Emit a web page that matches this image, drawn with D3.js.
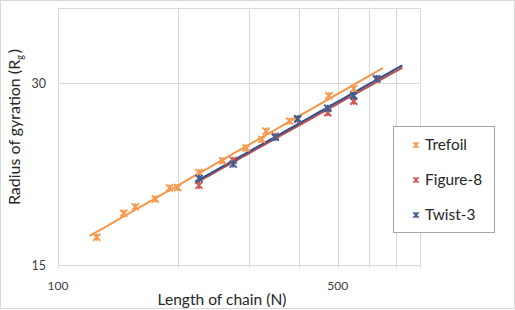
<!DOCTYPE html>
<html>
<head>
<meta charset="utf-8">
<script src="https://cdn.jsdelivr.net/npm/d3@7"></script>
<style>
  html, body { margin: 0; padding: 0; background: #fff; }
  svg { display: block; font-family: Lato, "Open Sans", sans-serif; }
</style>
</head>
<body>
<svg id="chart" width="515" height="310"></svg>
<script>
// ---- data ----
const trefoilN  = [125, 146, 156, 175, 190, 199, 225, 258, 295, 323, 331, 379, 475, 548];
const trefoilRg = [16.67, 18.27, 18.72, 19.29, 20.12, 20.15, 21.33, 22.31, 23.42, 24.2, 24.98, 25.95, 28.58, 29.37];
const fig8N     = [225, 274, 349, 397, 472, 548, 625];
const fig8Rg    = [20.31, 22.35, 24.5, 26.13, 26.79, 27.99, 30.44];
const twist3N   = [225, 274, 349, 397, 472, 548, 625];
const twist3Rg  = [20.86, 22.03, 24.39, 26.19, 27.25, 28.58, 30.51];
const seriesNames = ["Trefoil", "Figure-8", "Twist-3"];
const xGridValues = [100, 200, 300, 400, 500, 600, 700, 800];
const xTickLabels = [100, 500];
const yGridValues = [30, 40];
const yTickLabels = [15, 30];
const xDomain = [100, 800];
const yDomain = [15, 40];
const trendBackward = 5, trendForward = 100;

const colors = {
  "Trefoil":  { marker: "#F79A4E", line: "#F79646" },
  "Figure-8": { marker: "#CD5A57", line: "#C0504D" },
  "Twist-3":  { marker: "#3F5E96", line: "#2E4E8C" }
};

const series = [
  { name: "Trefoil",  N: trefoilN, Rg: trefoilRg },
  { name: "Figure-8", N: fig8N,    Rg: fig8Rg },
  { name: "Twist-3",  N: twist3N,  Rg: twist3Rg }
];

// ---- layout ----
const svg = d3.select("#chart");
const plot = { left: 58, right: 419.5, top: 7.5, bottom: 265 };
const x = d3.scaleLog().domain(xDomain).range([plot.left, plot.right]);
const y = d3.scaleLog().domain(yDomain).range([plot.bottom, plot.top]);
const gridColor = "#d9d9d9";

function fitWidth(sel, target) {
  const base = +sel.attr("font-size");
  const w = sel.node().getComputedTextLength();
  if (w > 0) sel.attr("font-size", (base * target / w).toFixed(2));
  return +sel.attr("font-size");
}

// outer border
svg.append("rect").attr("x", 0.5).attr("y", 0.5).attr("width", 514).attr("height", 308)
  .attr("fill", "#fff").attr("stroke", "#d9d9d9");

// vertical gridlines (extend slightly below axis as tick marks)
svg.append("g").selectAll("line").data(xGridValues).join("line")
  .attr("x1", d => Math.round(x(d)) + 0.5).attr("x2", d => Math.round(x(d)) + 0.5)
  .attr("y1", plot.top).attr("y2", plot.bottom + 3)
  .attr("stroke", gridColor).attr("stroke-width", 1);

// horizontal gridlines
svg.append("g").selectAll("line").data(yGridValues).join("line")
  .attr("x1", plot.left).attr("x2", plot.right)
  .attr("y1", d => Math.round(y(d)) + 0.5).attr("y2", d => Math.round(y(d)) + 0.5)
  .attr("stroke", gridColor).attr("stroke-width", 1);

// axis lines
svg.append("line").attr("x1", plot.left).attr("x2", plot.right)
  .attr("y1", Math.round(y(15)) + 0.5).attr("y2", Math.round(y(15)) + 0.5)
  .attr("stroke", gridColor);
svg.append("line").attr("x1", Math.round(x(100)) + 0.5).attr("x2", Math.round(x(100)) + 0.5)
  .attr("y1", plot.top).attr("y2", plot.bottom)
  .attr("stroke", gridColor);

// tick labels
svg.append("g").selectAll("text").data(xTickLabels).join("text")
  .attr("x", d => x(d)).attr("y", 290)
  .attr("text-anchor", "middle").attr("font-size", 12).attr("fill", "#404040")
  .text(d => d);
svg.append("g").selectAll("text").data(yTickLabels).join("text")
  .attr("x", 46).attr("y", d => y(d) + 4.5)
  .attr("text-anchor", "end").attr("font-size", 12.5).attr("fill", "#404040")
  .text(d => d);

// axis titles
const xt = svg.append("text").attr("x", 222).attr("y", 305).attr("text-anchor", "middle")
  .attr("font-size", 14).attr("fill", "#262626").text("Length of chain (N)");
fitWidth(xt, 129);
const yt = svg.append("text").attr("transform", "translate(20,127) rotate(-90)")
  .attr("text-anchor", "middle").attr("font-size", 14).attr("fill", "#262626");
yt.append("tspan").text("Radius of gyration (R");
yt.append("tspan").attr("font-size", 9).attr("dy", 3).text("g");
yt.append("tspan").attr("dy", -3).attr("dx", 2).text(")");
fitWidth(yt, 155);

// power-law trend lines (least squares in log-log)
function powerFit(N, R) {
  const lx = N.map(Math.log), ly = R.map(Math.log);
  const mx = d3.mean(lx), my = d3.mean(ly);
  const b = d3.sum(lx.map((v, i) => (v - mx) * (ly[i] - my))) / d3.sum(lx.map(v => (v - mx) ** 2));
  const a = Math.exp(my - b * mx);
  return n => a * Math.pow(n, b);
}

series.forEach(s => {
  const f = powerFit(s.N, s.Rg);
  const n0 = d3.min(s.N) - trendBackward, n1 = d3.max(s.N) + trendForward;
  const pts = d3.range(0, 41).map(i => n0 * Math.pow(n1 / n0, i / 40));
  svg.append("path")
    .datum(pts)
    .attr("d", d3.line().x(n => x(n)).y(n => y(f(n))))
    .attr("fill", "none").attr("stroke", colors[s.name].line).attr("stroke-width", 2);
});

// star markers
function star(g, cx, cy, color, r, w) {
  const p = `M${cx - r},${cy - r}L${cx + r},${cy + r}M${cx - r},${cy + r}L${cx + r},${cy - r}M${cx},${cy - r}L${cx},${cy + r}`;
  g.append("path").attr("d", p).attr("stroke", color).attr("stroke-width", w).attr("fill", "none");
}
series.forEach(s => {
  const g = svg.append("g");
  s.N.forEach((n, i) => star(g, x(n), y(s.Rg[i]), colors[s.name].marker, 3.5, 1.9));
});

// legend
svg.append("rect").attr("x", 393.5).attr("y", 126.5).attr("width", 101).attr("height", 106)
  .attr("fill", "#fff").attr("stroke", "#a6a6a6");
const legendY = [145, 180, 215];
const legendTexts = seriesNames.map((name, i) => {
  const g = svg.append("g");
  star(g, 416, legendY[i], colors[name].marker, 2.8, 1.6);
  return svg.append("text").attr("x", 425).attr("y", legendY[i] + 5)
    .attr("font-size", 15).attr("fill", "#262626").text(name);
});
const legendSize = fitWidth(legendTexts[0], 42);
legendTexts.forEach(t => t.attr("font-size", legendSize));
</script>
</body>
</html>
